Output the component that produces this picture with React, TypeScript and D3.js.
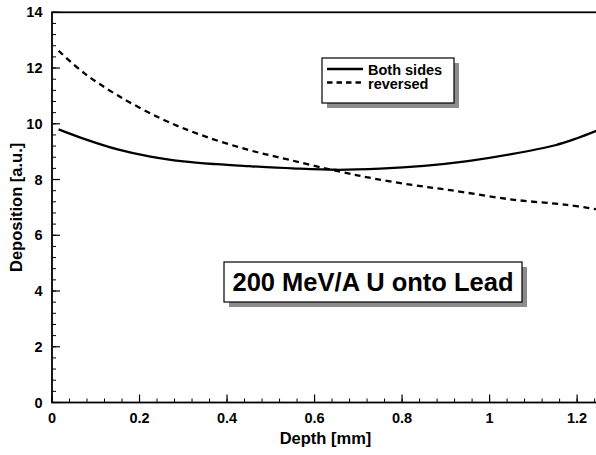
import React from 'react';
import * as d3 from 'd3';

// Both sides (solid)
const bothDepth = [0.015, 0.075, 0.15, 0.225, 0.3, 0.375, 0.45, 0.55, 0.65, 0.75, 0.85, 0.95, 1.05, 1.15, 1.2, 1.25];
const bothValue = [9.8, 9.45, 9.08, 8.82, 8.65, 8.55, 8.48, 8.4, 8.35, 8.39, 8.49, 8.66, 8.91, 9.23, 9.48, 9.78];

// reversed (dashed)
const revDepth = [0.015, 0.075, 0.15, 0.25, 0.34, 0.445, 0.544, 0.658, 0.734, 0.826, 0.91, 1.047, 1.176, 1.25];
const revValue = [12.62, 11.8, 11.02, 10.18, 9.6, 9.08, 8.7, 8.28, 8.04, 7.8, 7.62, 7.29, 7.09, 6.92];

const xTicks = [0, 0.2, 0.4, 0.6, 0.8, 1, 1.2];
const yTicks = [0, 2, 4, 6, 8, 10, 12, 14];

const W = 596;
const H = 455;
const FONT = '"Liberation Sans", Arial, sans-serif';

export default function App() {
  const margin = { top: 12.3, left: 52, bottom: 402.5 };
  const x = d3.scaleLinear().domain([0, 1.25]).range([margin.left, 599]);
  const y = d3.scaleLinear().domain([0, 14]).range([margin.bottom, margin.top]);

  const line = d3.line<[number, number]>()
    .x(d => x(d[0]))
    .y(d => y(d[1]))
    .curve(d3.curveCatmullRom.alpha(0.5));

  const both = bothDepth.map((d, i) => [d, bothValue[i]] as [number, number]);
  const rev = revDepth.map((d, i) => [d, revValue[i]] as [number, number]);

  const xMinor = d3.range(0, 1.2501, 0.04);
  const yMinor = d3.range(0, 14.001, 0.4);

  return (
    <svg width={W} height={H} style={{ position: 'absolute', left: 0, top: 0, background: '#fff' }}
      fontFamily={FONT} fontWeight="bold">
      {/* data */}
      <path d={line(both) || ''} fill="none" stroke="#000" strokeWidth={2.3} />
      <path d={line(rev) || ''} fill="none" stroke="#000" strokeWidth={2.3} strokeDasharray="6,4.5" />

      {/* frame */}
      <rect x={x(0)} y={y(14)} width={x(1.25) - x(0)} height={y(0) - y(14)} fill="none" stroke="#000" strokeWidth={1.8} />

      {/* x ticks */}
      {xMinor.map((v, i) => (
        <line key={'xm' + i} x1={x(v)} x2={x(v)} y1={y(0)} y2={y(0) - 4} stroke="#000" strokeWidth={1} />
      ))}
      {xTicks.map(v => (
        <g key={'xt' + v}>
          <line x1={x(v)} x2={x(v)} y1={y(0)} y2={y(0) - 8} stroke="#000" strokeWidth={1.2} />
          <text x={x(v)} y={422.5} textAnchor="middle" fontSize={14.5}>{v}</text>
        </g>
      ))}

      {/* y ticks */}
      {yMinor.map((v, i) => (
        <line key={'ym' + i} x1={x(0)} x2={x(0) + 4} y1={y(v)} y2={y(v)} stroke="#000" strokeWidth={1} />
      ))}
      {yTicks.map(v => (
        <g key={'yt' + v}>
          <line x1={x(0)} x2={x(0) + 8} y1={y(v)} y2={y(v)} stroke="#000" strokeWidth={1.2} />
          <text x={42.5} y={y(v) + 5} textAnchor="end" fontSize={14.5}>{v}</text>
        </g>
      ))}

      {/* axis titles */}
      <text x={(x(0) + x(1.25)) / 2} y={443.5} textAnchor="middle" fontSize={16.5}>Depth [mm]</text>
      <text transform={`translate(21.5,${(y(0) + y(14)) / 2}) rotate(-90)`} textAnchor="middle" fontSize={16.5}>
        Deposition [a.u.]
      </text>

      {/* legend */}
      <rect x={327} y={63} width={132} height={45} fill="#8c8c8c" />
      <rect x={322} y={58} width={132} height={45} fill="#fff" stroke="#000" strokeWidth={1.2} />
      <line x1={327} x2={363} y1={69} y2={69} stroke="#000" strokeWidth={2.3} />
      <line x1={327} x2={363} y1={82.5} y2={82.5} stroke="#000" strokeWidth={2.3} strokeDasharray="5.5,4" />
      <text x={368} y={75} fontSize={14.5}>Both sides</text>
      <text x={368} y={89} fontSize={14.5}>reversed</text>

      {/* annotation */}
      <rect x={229} y={267} width={298} height={40} fill="#8c8c8c" />
      <rect x={224} y={262} width={298} height={40} fill="#fff" stroke="#000" strokeWidth={1.2} />
      <text x={373} y={290.5} textAnchor="middle" fontSize={25.5}>200 MeV/A U onto Lead</text>
    </svg>
  );
}
